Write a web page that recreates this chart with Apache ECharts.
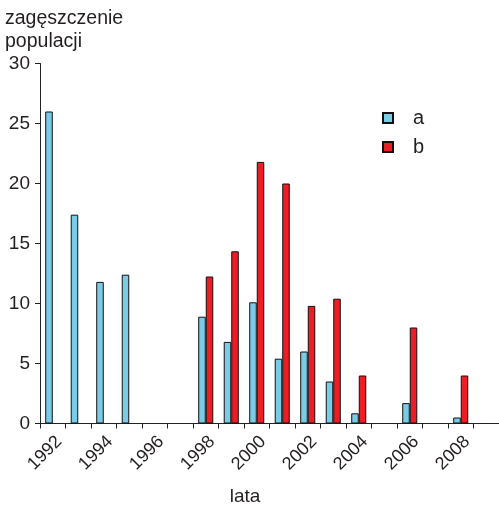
<!DOCTYPE html>
<html>
<head>
<meta charset="utf-8">
<script src="https://cdn.jsdelivr.net/npm/echarts@6/dist/echarts.min.js"></script>
<style>html,body{margin:0;padding:0;background:#fff}#c{width:499px;height:508px}</style>
</head>
<body>
<div id="c"></div>
<script>
const years = ['1992','1993','1994','1995','1996','1997','1998','1999','2000','2001','2002','2003','2004','2005','2006','2007','2008','2009'];
const seriesA = [26, 17.4, 11.8, 12.4, null, null, 8.9, 6.8, 10.1, 5.4, 6.0, 3.5, 0.85, null, 1.7, null, 0.5, null];
const seriesB = [null, null, null, null, null, null, 12.25, 14.35, 21.8, 20.0, 9.8, 10.4, 4.0, null, 8.0, null, 4.0, null];
const yTicks = [0, 5, 10, 15, 20, 25, 30];

const chart = echarts.init(document.getElementById('c'), null, {renderer: 'canvas'});
const font = 'Liberation Sans, Arial, sans-serif';
const txt = '#231f20';
chart.setOption({
  animation: false,
  textStyle: {fontFamily: font},
  grid: {left: 40, top: 63.5, width: 461, bottom: 84.5, containLabel: false},
  legend: {
    orient: 'vertical', left: 377, top: 103,
    itemWidth: 10, itemHeight: 10, itemGap: 9,
    icon: 'rect',
    textStyle: {fontSize: 20, color: txt, fontFamily: font, padding: [0, 0, 0, 15]},
    data: ['a', 'b']
  },
  xAxis: {
    type: 'category', data: years,
    axisLine: {lineStyle: {color: '#222', width: 1}},
    axisTick: {show: true, alignWithLabel: false, interval: 0, length: 5, inside: false, lineStyle: {color: '#222'}},
    axisLabel: {interval: 1, rotate: 45, fontSize: 18, color: txt, margin: 9, fontFamily: font, verticalAlign: 'top'}
  },
  yAxis: {
    type: 'value', min: yTicks[0], max: yTicks[yTicks.length - 1], interval: 5,
    splitLine: {show: false},
    axisLine: {show: true, lineStyle: {color: '#222', width: 1}},
    axisTick: {show: true, length: 5, lineStyle: {color: '#222'}},
    axisLabel: {fontSize: 19, color: txt, margin: 10, fontFamily: font}
  },
  graphic: [
    {type: 'text', left: 5, top: 7, style: {text: 'zagęszczenie\npopulacji', font: '19.5px ' + font, fill: txt, lineHeight: 23}},
    {type: 'text', x: 245, y: 497, style: {text: 'lata', font: '19px ' + font, fill: txt, textAlign: 'center', textVerticalAlign: 'middle'}}
  ],
  series: [
    {name: 'a', type: 'bar', data: seriesA, barGap: '0%', barCategoryGap: '41%',
     itemStyle: {color: '#7acbe6', borderColor: '#111', borderWidth: 1}},
    {name: 'b', type: 'bar', data: seriesB, barGap: '0%', barCategoryGap: '41%',
     itemStyle: {color: '#ee1d25', borderColor: '#111', borderWidth: 1}}
  ]
});
</script>
</body>
</html>
